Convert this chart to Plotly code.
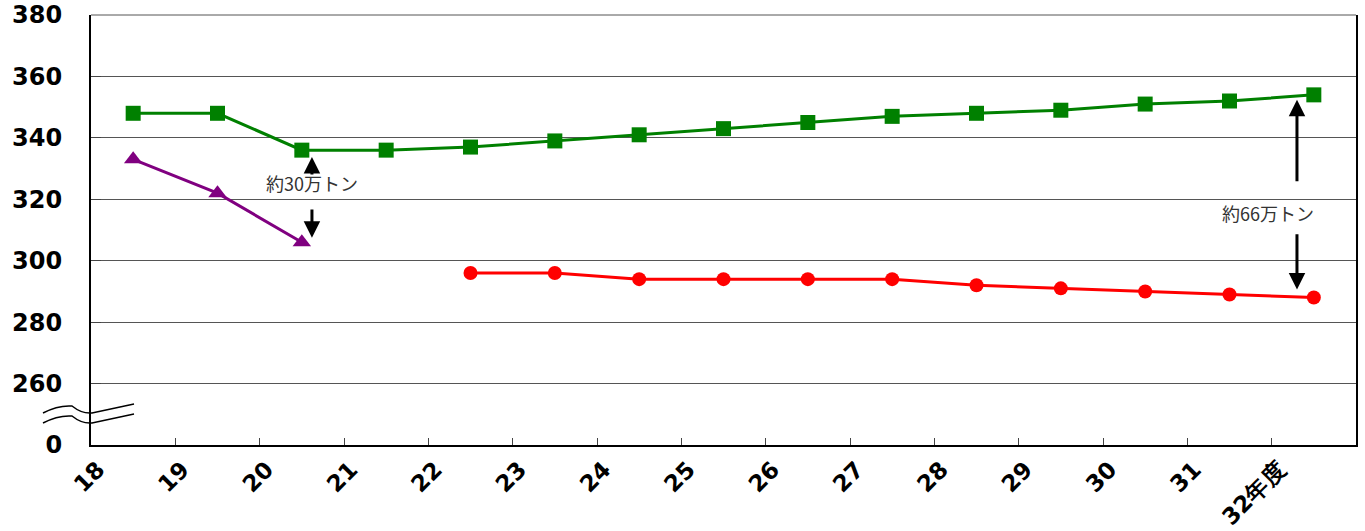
import plotly.graph_objects as go

# ---- data ----
years = ["18", "19", "20", "21", "22", "23", "24", "25", "26", "27", "28", "29", "30", "31", "32年度"]
green_vals = [348, 348, 336, 336, 337, 339, 341, 343, 345, 347, 348, 349, 351, 352, 354]
purple_vals = [333, 322, 306, None, None, None, None, None, None, None, None, None, None, None, None]
red_vals = [None, None, None, None, 296, 296, 294, 294, 294, 294, 292, 291, 290, 289, 288]
y_tick_vals = [240, 260, 280, 300, 320, 340, 360, 380]
y_tick_text = ["0", "260", "280", "300", "320", "340", "360", "380"]

# category centres on a linear axis; labels sit on the left boundary of each category
xpos = [i + 0.5 for i in range(len(years))]
xticks = list(range(len(years)))

# plot area at x 91..1356, y 15..445 (page body margin removed via post_script)
W, H = 1365, 531
L, T = 91, 15
PW, PH = 1265, 430
R, B = W - L - PW, H - T - PH

fig = go.Figure()
fig.add_trace(go.Scatter(x=xpos, y=green_vals, mode="lines+markers",
                         line=dict(color="#008000", width=3),
                         marker=dict(symbol="square", size=15, color="#008000"),
                         showlegend=False))
fig.add_trace(go.Scatter(x=xpos, y=purple_vals, mode="lines+markers",
                         line=dict(color="#800080", width=3),
                         marker=dict(symbol="triangle-up", size=16, color="#800080"),
                         showlegend=False))
fig.add_trace(go.Scatter(x=xpos, y=red_vals, mode="lines+markers",
                         line=dict(color="#ff0000", width=3),
                         marker=dict(symbol="circle", size=14, color="#ff0000"),
                         showlegend=False))

# gap annotations
txtfont = dict(family="Noto Sans CJK JP", size=18, color="#333333")
gap1_x = purple_vals.index(306) + 0.5 + 0.12
gap2_x = len(years) - 0.5 - 0.2
anns = [
    dict(x=gap1_x, y=325.4, text="約30万トン", showarrow=False, font=txtfont),
    dict(x=gap1_x, y=333.8, ax=gap1_x, ay=327.6, axref="x", ayref="y", text="",
         showarrow=True, arrowhead=2, arrowsize=1.1, arrowwidth=3, arrowcolor="black"),
    dict(x=gap1_x, y=307.5, ax=gap1_x, ay=317.2, axref="x", ayref="y", text="",
         showarrow=True, arrowhead=2, arrowsize=1.1, arrowwidth=3, arrowcolor="black"),
    dict(x=gap2_x - 0.34, y=315.6, text="約66万トン", showarrow=False, font=txtfont),
    dict(x=gap2_x, y=352.4, ax=gap2_x, ay=325.4, axref="x", ayref="y", text="",
         showarrow=True, arrowhead=2, arrowsize=1.1, arrowwidth=3, arrowcolor="black"),
    dict(x=gap2_x, y=290.6, ax=gap2_x, ay=309.1, axref="x", ayref="y", text="",
         showarrow=True, arrowhead=2, arrowsize=1.1, arrowwidth=3, arrowcolor="black"),
]

# axis-break squiggle (decoration), defined in screen pixels and converted to paper units
def p(px, py):
    return f"{(px - L) / PW:.5f},{(T + PH - py) / PH:.5f}"

def squiggle(dy):
    return ("M " + p(43, 413 + dy) + " Q " + p(58, 405 + dy) + " " + p(72, 406 + dy)
            + " Q " + p(82, 414 + dy) + " " + p(92, 413 + dy)
            + " L " + p(134, 404 + dy))

shapes = [
    dict(type="path", xref="paper", yref="paper", path=squiggle(0),
         line=dict(color="black", width=1.5)),
    dict(type="path", xref="paper", yref="paper", path=squiggle(10),
         line=dict(color="black", width=1.5)),
    # top border (gridline at the range edge)
    dict(type="line", xref="paper", yref="paper", x0=0, x1=1, y0=1, y1=1,
         line=dict(color="#555", width=1), layer="below"),
]

fig.update_layout(
    width=W, height=H,
    margin=dict(l=L, r=R, t=T, b=B, autoexpand=False),
    paper_bgcolor="white", plot_bgcolor="white",
    annotations=anns, shapes=shapes,
    font=dict(family="DejaVu Sans", color="black"),
)
fig.update_xaxes(range=[0, len(years)], tickmode="array", tickvals=xticks, ticktext=years,
                 tickangle=-45, ticks="inside", ticklen=7, tickcolor="#444",
                 showgrid=False, zeroline=False, showline=True, linecolor="black", linewidth=2,
                 automargin=False, ticklabelshift=7, ticklabelstandoff=0,
                 ticklabeloverflow="allow",
                 tickfont=dict(size=23, family="DejaVu Sans", color="black", weight="bold"))
fig.update_yaxes(range=[240, 380], tickmode="array", tickvals=y_tick_vals, ticktext=y_tick_text,
                 ticks="inside", ticklen=10, tickcolor="#444",
                 showgrid=True, gridcolor="#555", gridwidth=1, zeroline=False,
                 showline=True, linecolor="black", linewidth=2, mirror=True,
                 automargin=False, ticklabeloverflow="allow",
                 tickfont=dict(size=24, family="DejaVu Sans", color="black", weight="bold"),
                 ticklabelstandoff=22)

fig.write_html("out.html", config={"displayModeBar": False},
               post_script="document.body.style.margin='0';document.body.style.overflow='hidden';")
